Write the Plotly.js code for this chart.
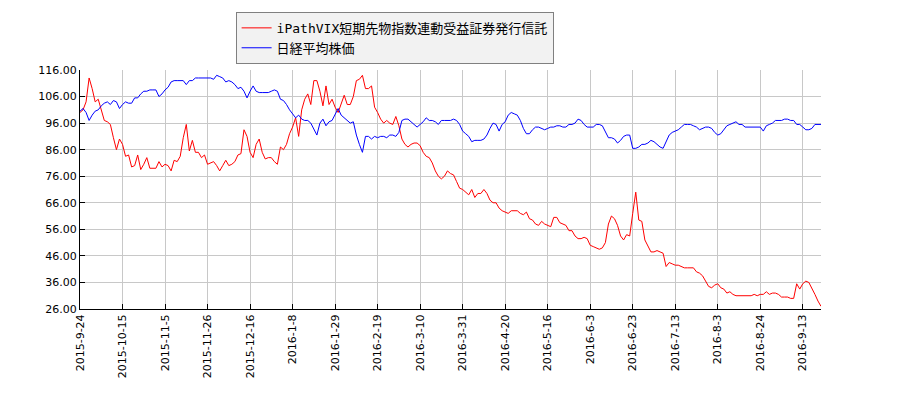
<!DOCTYPE html>
<html>
<head>
<meta charset="utf-8">
<script src="https://cdn.plot.ly/plotly-3.0.1.min.js"></script>
<style>
  html, body { margin: 0; padding: 0; background: #fff; }
  #chart { width: 900px; height: 400px; }
</style>
</head>
<body>
<div id="chart"></div>
<script>
/* ---------------- DATA (one value per trading day) ---------------- */
const vixName = "iPathVIX短期先物指数連動受益証券発行信託";
const nikkeiName = "日経平均株価";

const tickLabels = [
  "2015-9-24", "2015-10-15", "2015-11-5", "2015-11-26", "2015-12-16",
  "2016-1-8", "2016-1-29", "2016-2-19", "2016-3-10", "2016-3-31",
  "2016-4-20", "2016-5-16", "2016-6-3", "2016-6-23", "2016-7-13",
  "2016-8-3", "2016-8-24", "2016-9-13"
];
const daysPerTick = 14;

const vixValues = [
  100, 101, 104, 113, 109, 104, 105, 100.5, 97, 96.5,
  95.5, 90.5, 86, 90, 88, 83.5, 84, 79.5, 80, 84,
  78.5, 80.5, 83, 79, 79, 79, 81.5, 79.5, 80.5, 80,
  78, 82, 81.5, 83.5, 90.5, 95.5, 85.5, 89.5, 85, 85,
  83, 84,
  80.5, 81, 81.5, 80, 78, 80, 82, 80, 80.5, 81.5,
  84, 84.5, 93.5, 91, 85, 83, 88, 90, 85, 82.5,
  83, 83, 81.5, 80.5, 87, 86, 88, 92, 94.5, 98,
  91, 101, 105, 107, 103, 112, 112, 108, 102.5, 110,
  103, 105, 102, 100, 103, 106.5, 103, 103, 106, 112,
  112.5, 114, 109, 109, 110, 102, 100, 97.5, 96, 97,
  96, 95.5, 98.5, 95, 90, 88, 87, 88, 88.5, 88.5,
  87.5, 85, 83.5, 83, 81, 78, 76, 75, 76, 78,
  77, 76.5, 74, 71.5, 71, 70, 69, 71, 68, 69.5,
  69.5, 71, 69.5, 67, 66, 66, 64, 63, 62.5, 62,
  63, 63, 63, 62, 61.5, 62.5, 60, 59.5, 58, 57.5,
  59, 58, 57.5, 57, 60.5, 60.5, 58.5, 58, 57.5, 55.5,
  55.5, 53.5, 52.5, 52.5, 53, 52.5, 50, 49.5, 49, 48.5,
  49, 51, 58, 61, 60, 57.5, 53.5, 52, 54, 53.5,
  62, 70, 59.5, 59, 52, 50, 47.5, 47.5, 48, 47.5,
  47, 42, 43.5, 43, 42.5, 42.5, 42, 41.5, 41.5, 41.5,
  41.5, 40, 39.5, 38.5, 36.5, 34.5, 34, 35, 35.5, 34,
  33.5, 32, 32.5, 31.5, 31, 31, 31, 31, 31, 31,
  31.5, 31, 31.5, 31.5, 32.5, 31.5, 32, 32, 31.5, 30.5,
  30.5, 30.5, 30, 30, 35.5, 33.5, 35.5, 36.5, 36, 34,
  31.5, 29, 27
];

const nikkeiValues = [
  100.5, 101.5, 100, 97, 99, 100.5, 101, 102.5, 103.5, 104,
  103, 104.5, 104, 101.5, 103, 104, 103.5, 103.5, 105.5, 105.5,
  107, 108, 108, 108.5, 108.5, 108.5, 106, 107, 108.5, 109.5,
  111.5, 112, 112, 112, 112, 110.5, 112, 112, 113, 113,
  113, 113,
  113, 113, 112.5, 114, 113.5, 113, 111.5, 112, 111.5, 110.5,
  109, 109.5, 108, 105.5, 108, 110, 108, 107.5, 107.5, 107.5,
  107.5, 108, 108.5, 108, 105, 104.5, 103, 101, 99.5, 98,
  99, 97.5, 97, 97, 96, 94, 91.5, 96, 97.5, 95,
  96.5, 97, 99.5, 101.5, 99, 98, 97, 96, 96.5, 91.5,
  88, 85, 91, 91, 90, 91, 90.5, 91, 91, 90.5,
  91.5, 91.5, 91, 92.5, 97, 97.5, 97.5, 96.5, 95.5, 94.5,
  95.5, 96.5, 98, 97, 97, 96.5, 95.5, 97, 97, 97,
  97, 97.5, 97, 95.5, 93, 92, 91, 89, 89.5, 89.5,
  89.5, 90, 91.5, 94, 96, 95.5, 93, 95.5, 96.5, 99,
  100, 99.5, 99, 97, 94, 92, 92, 93.5, 94.5, 94.5,
  94, 93.5, 94, 94.5, 94.5, 95, 95, 94.5, 94.5, 95.5,
  95.5, 96, 97.5, 97, 95.5, 94.5, 94.5, 94.5, 95.5, 95.5,
  95, 93, 90.5, 90.5, 90, 88.5, 89.5, 91, 91.5, 91.5,
  86.5, 86.5, 87, 88, 88, 88.5, 89.5, 89, 88, 87,
  86.5, 89, 91.5, 92.5, 93, 93.5, 94.5, 95.5, 95.5, 95.5,
  95, 94.5, 93.5, 94, 94.5, 94.5, 94, 92.5, 91.5, 92,
  93.5, 95, 95.5, 96, 96.5, 95.5, 95.5, 94.5, 94.5, 94.5,
  94.5, 94.5, 94.5, 93, 95, 95.5, 96, 97, 97, 97,
  97.5, 97.5, 97, 97, 95.5, 95.5, 94.5, 93.5, 93.5, 94,
  95.5, 95.5, 95.5
];

/* ---------------- PLOT ---------------- */
const tickVals = tickLabels.map((_, i) => i * daysPerTick);
const lastIndex = vixValues.length - 1;

const traces = [
  {
    y: vixValues,
    name: vixName,
    mode: "lines",
    line: { color: "#ff0000", width: 1 }
  },
  {
    y: nikkeiValues,
    name: nikkeiName,
    mode: "lines",
    line: { color: "#0000ff", width: 1 }
  }
];

Plotly.newPlot(
  "chart",
  traces,
  {
    width: 900,
    height: 400,
    paper_bgcolor: "#ffffff",
    plot_bgcolor: "#ffffff",
    margin: { l: 80, r: 79, t: 70, b: 91 },
    font: { family: "DejaVu Sans, sans-serif", size: 11, color: "#000" },
    showlegend: true,
    legend: {
      x: 0.21, y: 1.243, xanchor: "left", yanchor: "top",
      bgcolor: "#f2f2f2",
      bordercolor: "#808080",
      borderwidth: 1,
      itemwidth: 30,
      font: { family: "DejaVu Sans Mono, Noto Sans CJK JP, sans-serif", size: 13, color: "#000" }
    },
    xaxis: {
      range: [0, lastIndex],
      tickvals: tickVals,
      ticktext: tickLabels,
      tickangle: -90,
      ticks: "inside",
      ticklen: 5,
      tickcolor: "#000",
      showgrid: true,
      gridcolor: "#c8c8c8",
      gridwidth: 1,
      showline: true,
      linecolor: "#000",
      linewidth: 1,
      zeroline: false,
      tickfont: { family: "DejaVu Sans, sans-serif", size: 11 }
    },
    yaxis: {
      range: [26, 116],
      tick0: 26,
      dtick: 10,
      tickformat: ".2f",
      ticks: "inside",
      ticklen: 5,
      tickcolor: "#000",
      showgrid: true,
      gridcolor: "#c8c8c8",
      gridwidth: 1,
      showline: true,
      linecolor: "#000",
      linewidth: 1,
      zeroline: false,
      tickfont: { family: "DejaVu Sans, sans-serif", size: 11 }
    }
  },
  { displayModeBar: false, staticPlot: true }
);
</script>
</body>
</html>
